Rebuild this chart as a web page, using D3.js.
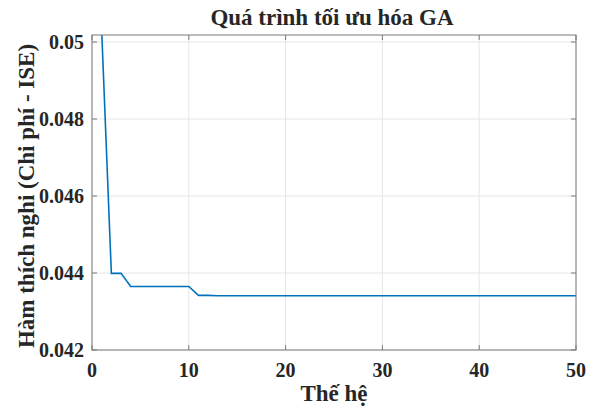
<!DOCTYPE html>
<html><head><meta charset="utf-8">
<script src="https://cdn.jsdelivr.net/npm/d3@7"></script>
<style>body{margin:0;background:#fff}svg{display:block}text{font-family:"Liberation Serif","Times New Roman",serif;font-weight:bold;fill:#262626}</style>
</head><body><svg id="c" width="595" height="410"></svg>
<script>
const generations = d3.range(1, 51);
const fitness = [0.0503, 0.04399, 0.04399, 0.04365, 0.04365, 0.04365, 0.04365, 0.04365, 0.04365, 0.04365,
  0.04342, 0.04342, 0.04341].concat(d3.range(37).map(() => 0.04341));
const xTicks = [0, 10, 20, 30, 40, 50];
const yTicks = [0.042, 0.044, 0.046, 0.048, 0.05];
const yTickLabels = ["0.042", "0.044", "0.046", "0.048", "0.05"];
const title = "Quá trình tối ưu hóa GA";
const xLabel = "Thế hệ";
const yLabel = "Hàm thích nghi (Chi phí - ISE)";

const svg = d3.select("#c");
const m = {l: 92, r: 576, t: 35, b: 350};
const x = d3.scaleLinear().domain([0, 50]).range([m.l, m.r]);
const y = d3.scaleLinear().domain([0.042, 0.050182]).range([m.b, m.t]);

svg.append("defs").append("clipPath").attr("id", "clip").append("rect")
  .attr("x", m.l).attr("y", m.t).attr("width", m.r - m.l).attr("height", m.b - m.t);

const grid = svg.append("g").attr("stroke", "#e6e6e6").attr("stroke-width", 1);
xTicks.forEach(t => grid.append("line").attr("x1", x(t)).attr("x2", x(t)).attr("y1", m.t).attr("y2", m.b));
yTicks.forEach(t => grid.append("line").attr("x1", m.l).attr("x2", m.r).attr("y1", y(t)).attr("y2", y(t)));

svg.append("path").datum(generations.map((g, i) => [g, fitness[i]]))
  .attr("clip-path", "url(#clip)")
  .attr("fill", "none").attr("stroke", "#0072BD").attr("stroke-width", 1.6)
  .attr("d", d3.line().x(d => x(d[0])).y(d => y(d[1])));

const ax = svg.append("g").attr("stroke", "#7a7a7a").attr("stroke-width", 1).attr("fill", "none");
ax.append("rect").attr("x", m.l).attr("y", m.t).attr("width", m.r - m.l).attr("height", m.b - m.t);
xTicks.forEach(t => {
  ax.append("line").attr("x1", x(t)).attr("x2", x(t)).attr("y1", m.b).attr("y2", m.b - 5);
  ax.append("line").attr("x1", x(t)).attr("x2", x(t)).attr("y1", m.t).attr("y2", m.t + 5);
});
yTicks.forEach(t => {
  ax.append("line").attr("x1", m.l).attr("x2", m.l + 5).attr("y1", y(t)).attr("y2", y(t));
  ax.append("line").attr("x1", m.r).attr("x2", m.r - 5).attr("y1", y(t)).attr("y2", y(t));
});

svg.append("g").selectAll("text").data(xTicks).join("text")
  .attr("x", d => x(d)).attr("y", 377).attr("text-anchor", "middle").attr("font-size", 20).text(d => d);
svg.append("g").selectAll("text").data(yTicks).join("text")
  .attr("x", m.l - 8).attr("y", d => y(d) + 7).attr("text-anchor", "end").attr("font-size", 20)
  .text((d, i) => yTickLabels[i]);

svg.append("text").attr("x", 332).attr("y", 25).attr("text-anchor", "middle").attr("font-size", 23).text(title);
svg.append("text").attr("x", 334).attr("y", 401).attr("text-anchor", "middle").attr("font-size", 23).text(xLabel);
svg.append("text").attr("transform", "translate(34,196) rotate(-90)").attr("text-anchor", "middle").attr("font-size", 23).text(yLabel);
</script></body></html>
